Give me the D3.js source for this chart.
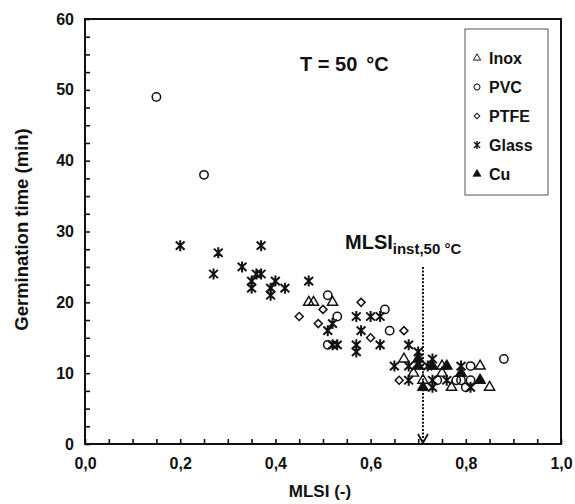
<!DOCTYPE html>
<html>
<head>
<meta charset="utf-8">
<script src="https://cdn.jsdelivr.net/npm/d3@7"></script>
<style>
  body { margin: 0; background: #fff; }
  text { font-family: "Liberation Sans", Arial, sans-serif; font-weight: bold; fill: #111; }
</style>
</head>
<body>
<svg id="drawing_region"></svg>
<script>
// values: [MLSI, germination time (min)]
const series_names = ["Inox", "PVC", "PTFE", "Glass", "Cu"];

const inox = [[0.47,20],[0.48,20],[0.52,20],[0.67,12],[0.69,10],[0.71,9],[0.75,11],[0.75,10],
              [0.77,8],[0.83,11],[0.85,8]];
const pvc = [[0.15,49],[0.25,38],[0.51,21],[0.53,18],[0.63,19],[0.64,16],[0.51,14],[0.74,9],
             [0.78,9],[0.79,9],[0.81,9],[0.80,8],[0.81,11],[0.88,12]];
const ptfe = [[0.39,21.5],[0.45,18],[0.49,17],[0.50,19],[0.58,20],[0.60,15],[0.66,9],[0.67,16]];
const glass = [[0.20,28],[0.28,27],[0.27,24],[0.37,28],[0.33,25],[0.35,23],[0.35,22],[0.36,24],
               [0.37,24],[0.40,23],[0.39,22],[0.39,21],[0.42,22],[0.47,23],[0.52,17],[0.51,16],
               [0.57,18],[0.60,18],[0.62,18],[0.58,16],[0.52,14],[0.53,14],[0.57,14],[0.57,13],
               [0.62,14],[0.68,14],[0.70,13],[0.65,11],[0.68,11],[0.68,9],[0.73,12],[0.72,11],
               [0.79,11],[0.73,9],[0.73,8],[0.76,9],[0.81,8]];
const cu = [[0.70,12],[0.70,11],[0.73,11],[0.76,11],[0.79,10],[0.71,8],[0.83,9]];

const x_ticks = d3.range(0, 1.0001, 0.05);
const y_ticks = d3.range(0, 60.001, 2.5);
const mlsi_inst = 0.71;
const mlsi_inst_top = 25;

// star marker: vertical bar crossed by an X
const star = {
    draw(ctx, size) {
        const r = Math.sqrt(size) * 0.55;
        ctx.moveTo(0, -r); ctx.lineTo(0, r);
        ctx.moveTo(-r * 0.8, -r * 0.75); ctx.lineTo(r * 0.8, r * 0.75);
        ctx.moveTo(-r * 0.8, r * 0.75); ctx.lineTo(r * 0.8, -r * 0.75);
    }
};

const styles = {
    Inox:  { type: d3.symbolTriangle, size: 46, fill: "none", sw: 1.4, rot: 0 },
    PVC:   { type: d3.symbolCircle,   size: 55, fill: "none", sw: 1.5, rot: 0 },
    PTFE:  { type: d3.symbolSquare,   size: 32, fill: "none", sw: 1.5, rot: 45 },
    Glass: { type: star,              size: 100, fill: "none", sw: 2, rot: 0 },
    Cu:    { type: d3.symbolTriangle, size: 55, fill: "#111", sw: 1, rot: 0 }
};

const series = [
    { name: "Inox", values: inox },
    { name: "PVC", values: pvc },
    { name: "PTFE", values: ptfe },
    { name: "Glass", values: glass },
    { name: "Cu", values: cu }
];

const config = {
    width: 575,
    height: 504,
    margin: { top: 19, right: 14, bottom: 60, left: 85 }
};

const svg = d3.select('#drawing_region')
    .attr('width', config.width)
    .attr('height', config.height);

const inner_width = config.width - config.margin.left - config.margin.right;
const inner_height = config.height - config.margin.top - config.margin.bottom;

const chart = svg.append('g')
    .attr('transform', `translate(${config.margin.left}, ${config.margin.top})`);

const xscale = d3.scaleLinear().domain([0, 1]).range([0, inner_width]);
const yscale = d3.scaleLinear().domain([0, 60]).range([inner_height, 0]);

const fmt = d3.format(".1f");

const xaxis = d3.axisBottom(xscale)
    .tickValues(x_ticks)
    .tickSizeInner(-5)
    .tickSizeOuter(0)
    .tickPadding(14)
    .tickFormat(d => Math.round(d * 100) % 20 === 0 ? fmt(d).replace(".", ",") : "");

const yaxis = d3.axisLeft(yscale)
    .tickValues(y_ticks)
    .tickSizeInner(-5)
    .tickSizeOuter(0)
    .tickPadding(11)
    .tickFormat(d => d % 10 === 0 ? d : "");

const xaxis_group = chart.append('g')
    .attr('transform', `translate(0, ${inner_height})`)
    .call(xaxis);
const yaxis_group = chart.append('g').call(yaxis);

[xaxis_group, yaxis_group].forEach(g => {
    g.select('.domain').remove();
    g.selectAll('.tick line').attr('stroke', '#111').attr('stroke-width', 1.6);
    g.selectAll('.tick text').attr('font-size', '16px').attr('fill', '#111');
});
xaxis_group.selectAll('.tick text').attr('dy', '0.71em');

// frame
chart.append('rect')
    .attr('width', inner_width)
    .attr('height', inner_height)
    .attr('fill', 'none')
    .attr('stroke', '#111')
    .attr('stroke-width', 2);

// axis titles
svg.append('text')
    .attr('x', config.margin.left + inner_width / 2 - 3)
    .attr('y', 497)
    .attr('text-anchor', 'middle')
    .attr('font-size', '17px')
    .text('MLSI (-)');

svg.append('text')
    .attr('transform', `translate(28, ${config.margin.top + inner_height / 2 - 2}) rotate(-90)`)
    .attr('text-anchor', 'middle')
    .attr('font-size', '18.5px')
    .text('Germination time (min)');

// markers
const symbol = d3.symbol();
series.forEach(s => {
    const st = styles[s.name];
    chart.append('g').selectAll('path').data(s.values).enter()
        .append('path')
        .attr('d', symbol.type(st.type).size(st.size)())
        .attr('transform', d => `translate(${xscale(d[0])}, ${yscale(d[1])}) rotate(${st.rot})`)
        .attr('fill', st.fill)
        .attr('stroke', '#111')
        .attr('stroke-width', st.sw);
});

// MLSI_inst arrow
chart.append('line')
    .attr('x1', xscale(mlsi_inst)).attr('x2', xscale(mlsi_inst))
    .attr('y1', yscale(mlsi_inst_top)).attr('y2', yscale(0) - 1)
    .attr('stroke', '#111')
    .attr('stroke-width', 2)
    .attr('stroke-dasharray', '2,1.6');

chart.append('path')
    .attr('d', `M${xscale(mlsi_inst) - 5},${yscale(0) - 10} L${xscale(mlsi_inst)},${yscale(0) - 1} L${xscale(mlsi_inst) + 5},${yscale(0) - 10}`)
    .attr('fill', 'none')
    .attr('stroke', '#111')
    .attr('stroke-width', 1.8);

const ann = svg.append('text')
    .attr('x', 345)
    .attr('y', 249)
    .attr('font-size', '20px');
ann.append('tspan').text('MLSI');
ann.append('tspan').attr('dy', 5).attr('font-size', '15px').text('inst,50 °C');

// temperature label
const tlab = svg.append('text')
    .attr('x', 300)
    .attr('y', 71)
    .attr('font-size', '20px');
tlab.append('tspan').text('T = 50');
tlab.append('tspan').attr('dx', 9).text('°C');

// legend
const legend = svg.append('g').attr('transform', 'translate(465, 29)');
legend.append('rect')
    .attr('width', 83)
    .attr('height', 166)
    .attr('fill', '#fff')
    .attr('stroke', '#555')
    .attr('stroke-width', 1);

const items = legend.selectAll('g.item').data(series_names).enter()
    .append('g')
    .attr('transform', (d, i) => `translate(12, ${29 + i * 29})`);

items.append('path')
    .attr('d', d => symbol.type(styles[d].type).size(styles[d].size * 0.5)())
    .attr('transform', d => `rotate(${styles[d].rot})`)
    .attr('fill', d => styles[d].fill)
    .attr('stroke', '#111')
    .attr('stroke-width', d => styles[d].sw * 0.7);

items.append('text')
    .attr('x', 12)
    .attr('dy', '0.36em')
    .attr('font-size', '16px')
    .text(d => d);
</script>
</body>
</html>
